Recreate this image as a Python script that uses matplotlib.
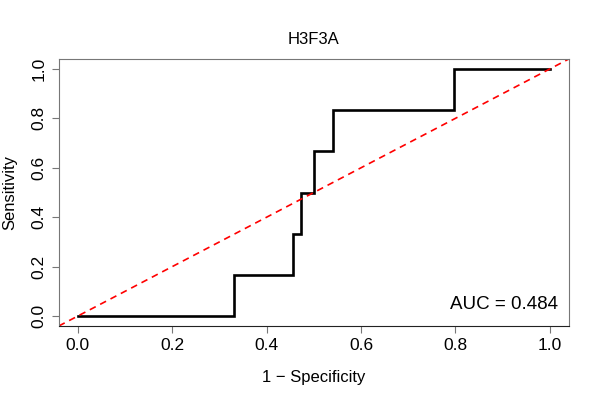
import matplotlib
matplotlib.use('Agg')
import matplotlib.pyplot as plt
import numpy as np

plt.rcParams['font.family'] = ['Liberation Sans', 'DejaVu Sans']

# ROC curve points (1 - specificity, sensitivity)
fpr = [0.0, 0.21, 0.33, 0.33, 0.42, 0.456, 0.456, 0.473, 0.473, 0.50, 0.50,
       0.541, 0.541, 0.628, 0.797, 0.797, 1.0]
tpr = [0.0, 0.0, 0.0, 1/6, 1/6, 1/6, 2/6, 2/6, 3/6, 3/6, 4/6,
       4/6, 5/6, 5/6, 5/6, 1.0, 1.0]
auc_value = 0.484
gene = 'H3F3A'
ticks = [0.0, 0.2, 0.4, 0.6, 0.8, 1.0]

fig = plt.figure(figsize=(6, 4), dpi=100)
ax = fig.add_axes([0.098, 0.185, 0.850, 0.6675])

ax.plot(fpr, tpr, color='black', lw=1.9, solid_joinstyle='miter')
ax.axline((0, 0), slope=1, color='red', ls=(0, (4, 3)), lw=1.2)

ax.set_xlim(-0.04, 1.04)
ax.set_ylim(-0.04, 1.04)
ax.set_xticks(ticks)
ax.set_yticks(ticks)
ax.set_xticklabels(['%.1f' % t for t in ticks])
ax.set_yticklabels(['%.1f' % t for t in ticks], rotation=90, va='center')
ax.tick_params(labelsize=12.5, length=5, width=0.8, color='#777777', pad=4)

for side in ['top', 'right', 'left']:
    ax.spines[side].set_color('#777777')
ax.spines['bottom'].set_color('#222222')

ax.set_title(gene, fontsize=12, pad=11)
ax.set_xlabel('1 \u2212 Specificity', fontsize=12, labelpad=12)
ax.set_ylabel('Sensitivity', fontsize=12, labelpad=10)

ax.text(1.018, 0.045, 'AUC = %.3f' % auc_value, ha='right', va='center', fontsize=13.5)

fig.savefig('out.png', dpi=100)
